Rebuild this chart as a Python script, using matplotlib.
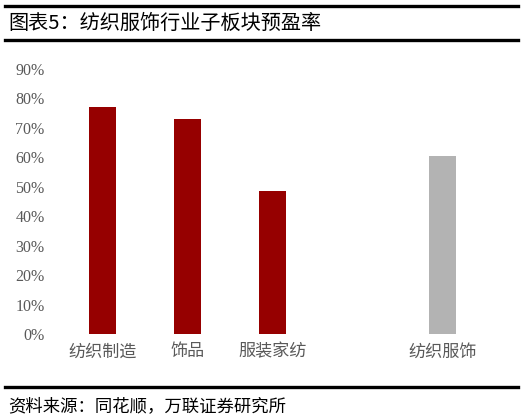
import matplotlib
matplotlib.use("Agg")
from matplotlib import pyplot as plt
from matplotlib.lines import Line2D

plt.rcParams['font.family'] = ['Noto Sans CJK SC', 'DejaVu Sans']

categories = ['纺织制造', '饰品', '服装家纺', '', '纺织服饰']
values = [0.772, 0.730, 0.486, 0.0, 0.603]
colors = ['#960000', '#960000', '#960000', 'none', '#B3B3B3']
yticks = [0.0, 0.1, 0.2, 0.3, 0.4, 0.5, 0.6, 0.7, 0.8, 0.9]
ytick_labels = ['0%', '10%', '20%', '30%', '40%', '50%', '60%', '70%', '80%', '90%']

title = '图表5：纺织服饰行业子板块预盈率'
source = '资料来源：同花顺，万联证券研究所'

fig = plt.figure(figsize=(5.25, 4.18), dpi=100)
ax = fig.add_axes([60 / 525, (418 - 334) / 418, 425 / 525, (334 - 69) / 418])

x = list(range(len(categories)))
ax.bar(x, values, width=0.32, color=colors)

ax.set_xlim(-0.5, len(categories) - 0.5)
ax.set_ylim(0, 0.9)
ax.set_yticks(yticks)
ax.set_yticklabels(ytick_labels, fontfamily='Liberation Serif', fontsize=11.5,
                   color='#595959')
ax.set_xticks(x)
ax.set_xticklabels(categories, fontsize=12.3, color='#595959')
ax.tick_params(axis='y', length=0, pad=11)
ax.tick_params(axis='x', length=0, pad=6)
for s in ax.spines.values():
    s.set_visible(False)

# header / footer rules
for yy in [6, 40, 387]:
    fig.add_artist(Line2D([5 / 525, 518 / 525], [1 - yy / 418, 1 - yy / 418],
                          color='black', lw=2.4, transform=fig.transFigure))

fig.text(8 / 525, 1 - 23 / 418, title, fontsize=14.5, va='center', ha='left')
fig.text(8 / 525, 1 - 406 / 418, source, fontsize=12.5, va='center', ha='left',
         style='italic')

fig.savefig('out.png', dpi=100)
